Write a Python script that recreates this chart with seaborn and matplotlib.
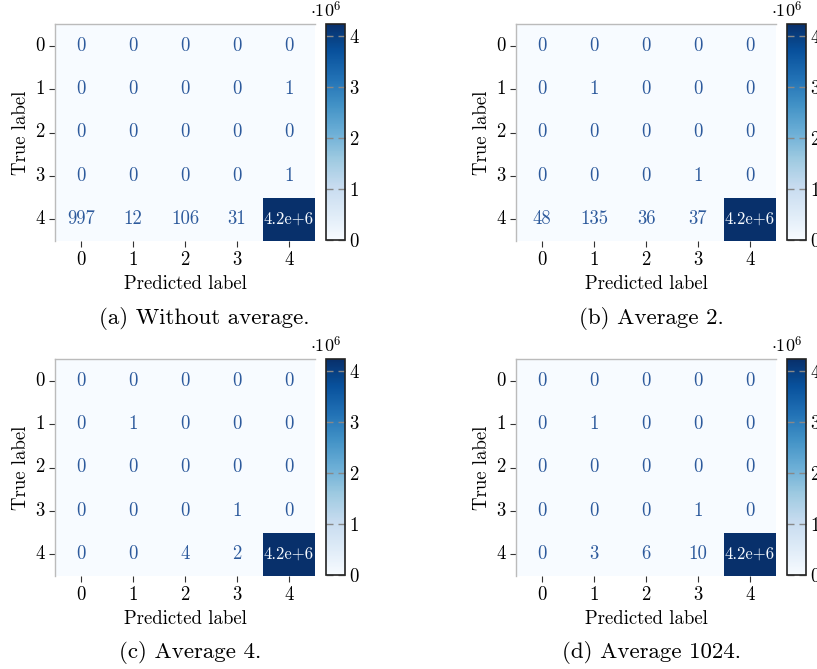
import numpy as np
import matplotlib
matplotlib.use("Agg")
import matplotlib.pyplot as plt
import seaborn as sns
from matplotlib.ticker import FuncFormatter

plt.rcParams['font.family'] = ['cmr10', 'DejaVu Serif']
plt.rcParams['mathtext.fontset'] = 'cm'
plt.rcParams['axes.formatter.use_mathtext'] = True

classes = ["0", "1", "2", "3", "4"]

cm_a = [[0, 0, 0, 0, 0],
        [0, 0, 0, 0, 1],
        [0, 0, 0, 0, 0],
        [0, 0, 0, 0, 1],
        [997, 12, 106, 31, 4235000]]
cm_b = [[0, 0, 0, 0, 0],
        [0, 1, 0, 0, 0],
        [0, 0, 0, 0, 0],
        [0, 0, 0, 1, 0],
        [48, 135, 36, 37, 4235000]]
cm_c = [[0, 0, 0, 0, 0],
        [0, 1, 0, 0, 0],
        [0, 0, 0, 0, 0],
        [0, 0, 0, 1, 0],
        [0, 0, 4, 2, 4235000]]
cm_d = [[0, 0, 0, 0, 0],
        [0, 1, 0, 0, 0],
        [0, 0, 0, 0, 0],
        [0, 0, 0, 1, 0],
        [0, 3, 6, 10, 4235000]]

captions = ["(a) Without average.", "(b) Average 2.", "(c) Average 4.", "(d) Average 1024."]
matrices = [cm_a, cm_b, cm_c, cm_d]

W, H = 817, 669
fig = plt.figure(figsize=(W / 100, H / 100), dpi=100)

def frac(x0, y0, x1, y1):
    return [x0 / W, 1 - y1 / H, (x1 - x0) / W, (y1 - y0) / H]

ax_boxes = [(55, 24, 315, 241), (516, 24, 776, 241), (55, 359, 315, 576), (516, 359, 776, 576)]
cb_boxes = [(326, 24, 345, 240), (787, 24, 806, 240), (326, 359, 345, 575), (787, 359, 806, 575)]
cap_pos = [(204, 319), (651, 319), (190, 653), (651, 653)]

def label_of(v):
    if v >= 1e5:
        m, e = f"{v:.1e}".split("e")
        return f"{m}e+{int(e)}"
    return f"{v:d}"

FS = 13.5
AFS = 13.5
light_txt = "#2d5a9c"
dark_txt = "#f7fbff"

for M, cap, ab, cb, cp in zip(matrices, captions, ax_boxes, cb_boxes, cap_pos):
    data = np.array(M)
    ax = fig.add_axes(frac(*ab))
    cax = fig.add_axes(frac(*cb))
    labels = np.vectorize(label_of)(data)
    vmax = data.max()
    sns.heatmap(data, ax=ax, cbar_ax=cax, cmap="Blues", vmin=0, vmax=vmax,
                annot=labels, fmt="", annot_kws={"fontsize": AFS},
                xticklabels=classes, yticklabels=classes)
    thresh = vmax / 2
    for t, v in zip(ax.texts, data.flatten()):
        t.set_color(dark_txt if v > thresh else light_txt)
        if v > thresh:
            t.set_fontsize(12)
    ax.set_xlabel("Predicted label", fontsize=FS)
    ax.set_ylabel("True label", fontsize=FS)
    ax.tick_params(axis="both", labelsize=FS, length=4, width=0.8, color="#333333",
                   bottom=True, left=True)
    ax.set_yticklabels(classes, rotation=0)
    ax.set_xticklabels(classes, rotation=0)
    for side in ["left", "top"]:
        ax.spines[side].set_visible(True)
        ax.spines[side].set_color("#bbbbbb")
        ax.spines[side].set_linewidth(1.0)
    for side in ["right", "bottom"]:
        ax.spines[side].set_visible(False)

    cbar = ax.collections[0].colorbar
    cbar.outline.set_linewidth(1.2)
    cbar.outline.set_edgecolor("#222222")
    cbar.set_ticks([0, 1e6, 2e6, 3e6, 4e6])
    cax.yaxis.set_major_formatter(FuncFormatter(lambda x, p: f"{x / 1e6:g}"))
    cax.tick_params(axis="y", direction="in", left=True, right=True, labelleft=False,
                    labelright=True, length=5, width=1.0, color="#888888", labelsize=FS, pad=3)
    cax.yaxis.get_offset_text().set_visible(False)
    fig.text((cb[2] - 3) / W, 1 - (cb[1] - 7) / H, r"$\cdot 10^6$", ha="right", va="baseline",
             fontsize=13)

    fig.text(cp[0] / W, 1 - cp[1] / H, cap, ha="center", va="center", fontsize=16.5)

fig.savefig("out.png", dpi=100)
